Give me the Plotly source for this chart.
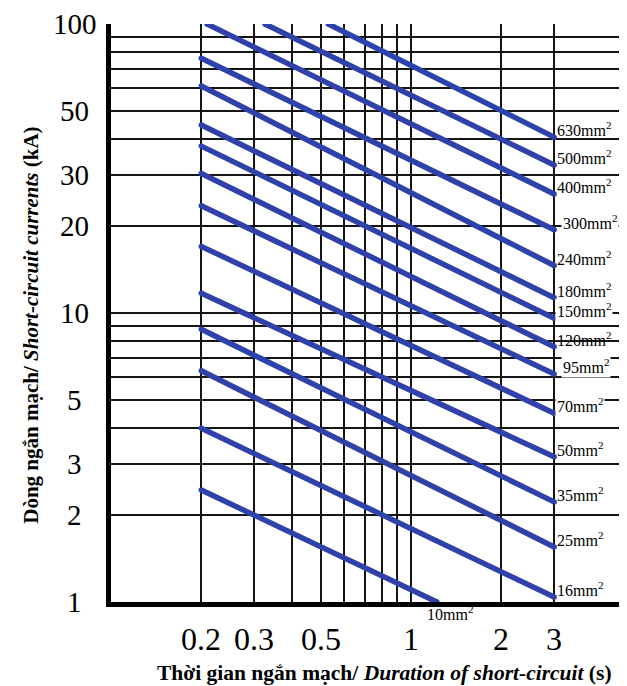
import numpy as np
import plotly.graph_objects as go

# ---------------- data ----------------
sizes = ["630", "500", "400", "300", "240", "180", "150", "120",
         "95", "70", "50", "35", "25", "16", "10"]
t_start = [0.53, 0.326, 0.209, 0.2, 0.2, 0.2, 0.2, 0.2,
           0.2, 0.2, 0.2, 0.2, 0.2, 0.2, 0.2]
i_start = [100, 100, 100, 76.1, 61.0, 44.7, 37.8, 30.4,
           23.5, 17.0, 11.7, 8.78, 6.31, 3.99, 2.44]
t_end = [3, 3, 3, 3, 3, 3, 3, 3, 3, 3, 3, 3, 3, 3, 1.22]
i_end = [40.6, 32.5, 25.8, 19.4, 14.6, 11.3, 9.59, 7.64,
         6.15, 4.50, 3.18, 2.22, 1.55, 1.04, 1.0]

x_grid = [0.2, 0.3, 0.4, 0.5, 0.6, 0.7, 0.8, 0.9, 1, 2, 3]
x_labels = [0.2, 0.3, 0.5, 1, 2, 3]
y_grid = [1, 2, 3, 4, 5, 6, 7, 8, 9, 10, 20, 30, 40, 50, 60, 70, 80, 90, 100]
y_labels = [1, 2, 3, 5, 10, 20, 30, 50, 100]

x_title = "<b>Thời gian ngắn mạch/ <i>Duration of short-circuit</i> (s)</b>"
y_title = "<b>Dòng ngắn mạch/ <i>Short-circuit currents</i> (kA)</b>"

# ---------------- styling ----------------
BLUE = "rgb(48,66,170)"
SERIF = "Liberation Serif, Times New Roman, serif"
masked = {"300", "150", "95", "70"}       # labels that hide the grid line behind them
label_xshift = {"300": 6, "95": 6}

fig = go.Figure()
for s, t0, i0, t1, i1 in zip(sizes, t_start, i_start, t_end, i_end):
    fig.add_trace(go.Scatter(
        x=[t0, t1], y=[i0, i1], mode="lines+markers",
        line=dict(color=BLUE, width=5.5),
        marker=dict(color=BLUE, size=5.5),
        showlegend=False, hoverinfo="skip"))

annotations = []
for s, t1, i1 in zip(sizes, t_end, i_end):
    if s == "10":
        annotations.append(dict(
            x=np.log10(t1), y=np.log10(i1), xref="x", yref="y",
            text=f"{s}mm<sup>2</sup>", showarrow=False,
            xanchor="center", yanchor="middle", xshift=13, yshift=-11,
            font=dict(family=SERIF, size=16, color="black")))
    else:
        annotations.append(dict(
            x=np.log10(t1), y=np.log10(i1), xref="x", yref="y",
            text=f"{s}mm<sup>2</sup>", showarrow=False,
            xanchor="left", yanchor="middle",
            xshift=1 + label_xshift.get(s, 0), yshift=8,
            bgcolor="white" if s in masked else "rgba(0,0,0,0)",
            borderpad=1,
            font=dict(family=SERIF, size=16, color="black")))

# y tick labels (centred column left of axis)
for v in y_labels:
    annotations.append(dict(
        x=-0.0698, y=np.log10(v), xref="paper", yref="y",
        text=str(v), showarrow=False, xanchor="center", yanchor="middle",
        font=dict(family=SERIF, size=29, color="black")))
# x tick labels
for v in x_labels:
    annotations.append(dict(
        x=np.log10(v), y=-0.064, xref="x", yref="paper",
        text=str(v), showarrow=False, xanchor="center", yanchor="middle",
        font=dict(family=SERIF, size=32, color="black")))

annotations.append(dict(
    x=0.531, y=-0.123, xref="paper", yref="paper", text=x_title,
    showarrow=False, xanchor="center", yanchor="middle",
    font=dict(family=SERIF, size=21.5, color="black")))
annotations.append(dict(
    x=-0.155, y=0.478, xref="paper", yref="paper", text=y_title,
    showarrow=False, xanchor="center", yanchor="middle", textangle=-90,
    font=dict(family=SERIF, size=21, color="black")))

# page body has an 8px default margin, so the figure is 8px smaller
fig.update_layout(
    width=619, height=678,
    margin=dict(l=103, r=0, t=16, b=84),
    paper_bgcolor="white", plot_bgcolor="white",
    annotations=annotations,
    xaxis=dict(type="log", range=[-1, -1 + 516 / 300],
               tickvals=x_grid, showticklabels=False, ticks="",
               showgrid=True, gridcolor="#151515", gridwidth=1.6,
               showline=True, linecolor="black", linewidth=5,
               zeroline=False, fixedrange=True),
    yaxis=dict(type="log", range=[0, 2],
               tickvals=y_grid, showticklabels=False, ticks="",
               showgrid=True, gridcolor="#151515", gridwidth=1.6,
               showline=True, linecolor="black", linewidth=5,
               zeroline=False, fixedrange=True),
)

fig.write_html("out.html")
